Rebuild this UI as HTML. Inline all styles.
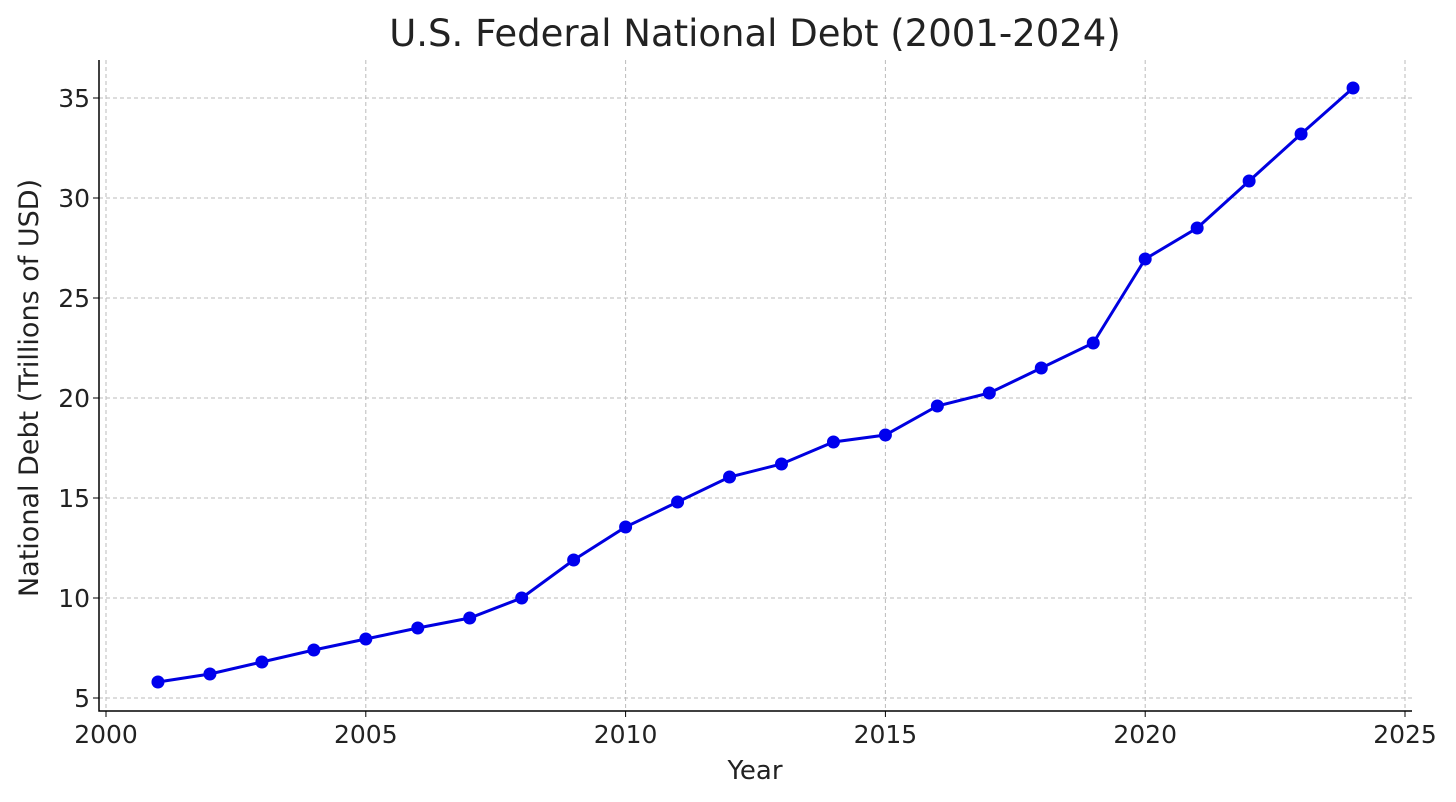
<!DOCTYPE html>
<html><head><meta charset="utf-8"><style>
body{margin:0;background:#fff;}
svg{display:block;font-family:"DejaVu Sans","Liberation Sans",sans-serif;}
</style></head><body>
<svg id="chart" width="1456" height="802"></svg>
<script>
const years=[2001,2002,2003,2004,2005,2006,2007,2008,2009,2010,2011,2012,2013,2014,2015,2016,2017,2018,2019,2020,2021,2022,2023,2024];
const debt=[5.8,6.2,6.8,7.4,7.95,8.5,9.0,10.0,11.9,13.55,14.8,16.05,16.7,17.8,18.15,19.6,20.25,21.5,22.75,26.95,28.5,30.85,33.2,35.5];
const xTicks=[2000,2005,2010,2015,2020,2025];
const yTicks=[5,10,15,20,25,30,35];
const NS="http://www.w3.org/2000/svg";
const svg=document.getElementById('chart');
const L=99,R=1412,T=60,B=711;
const x=v=>106+(v-2000)*(1405-106)/25;
const y=v=>698-(v-5)*20;
function mk(t,a,p){const e=document.createElementNS(NS,t);for(const k in a)e.setAttribute(k,a[k]);(p||svg).appendChild(e);return e;}
const grid=mk('g',{});


xTicks.forEach(t=>{mk('line',{x1:x(t),x2:x(t),y1:T,y2:B,stroke:'#bbb','stroke-dasharray':'4,3','stroke-width':1},grid);
const tx=mk('text',{x:x(t),y:743,'text-anchor':'middle','font-size':25,fill:'#222'});tx.textContent=t;


mk('line',{x1:x(t),x2:x(t),y1:B,y2:B+6,stroke:'#000'});});
yTicks.forEach(t=>{mk('line',{x1:L,x2:R,y1:y(t),y2:y(t),stroke:'#bbb','stroke-dasharray':'4,3','stroke-width':1},grid);
const tx=mk('text',{x:90,y:y(t)+9,'text-anchor':'end','font-size':25,fill:'#222'});tx.textContent=t;


mk('line',{x1:L-6,x2:L,y1:y(t),y2:y(t),stroke:'#000'});});
const ax=mk('path',{d:`M${L} ${T}V${B}H${R}`,fill:'none',stroke:'#000','stroke-width':1.5});


const line=mk('polyline',{points:years.map((v,i)=>x(v)+','+y(debt[i])).join(' '),fill:'none',stroke:'#0000e0','stroke-width':3});


years.forEach((v,i)=>{const c=mk('circle',{cx:x(v),cy:y(debt[i]),r:6.5,fill:'#0000ee'});

});
const ti=mk('text',{x:755,y:46,'text-anchor':'middle','font-size':37,fill:'#222'});ti.textContent='U.S. Federal National Debt (2001-2024)';


const xl=mk('text',{x:755,y:779,'text-anchor':'middle','font-size':26,fill:'#222'});xl.textContent='Year';


const yl=mk('text',{x:38,y:388,'text-anchor':'middle','font-size':27,fill:'#222',transform:'rotate(-90 38 388)'});yl.textContent='National Debt (Trillions of USD)';


</script>
</body></html>
